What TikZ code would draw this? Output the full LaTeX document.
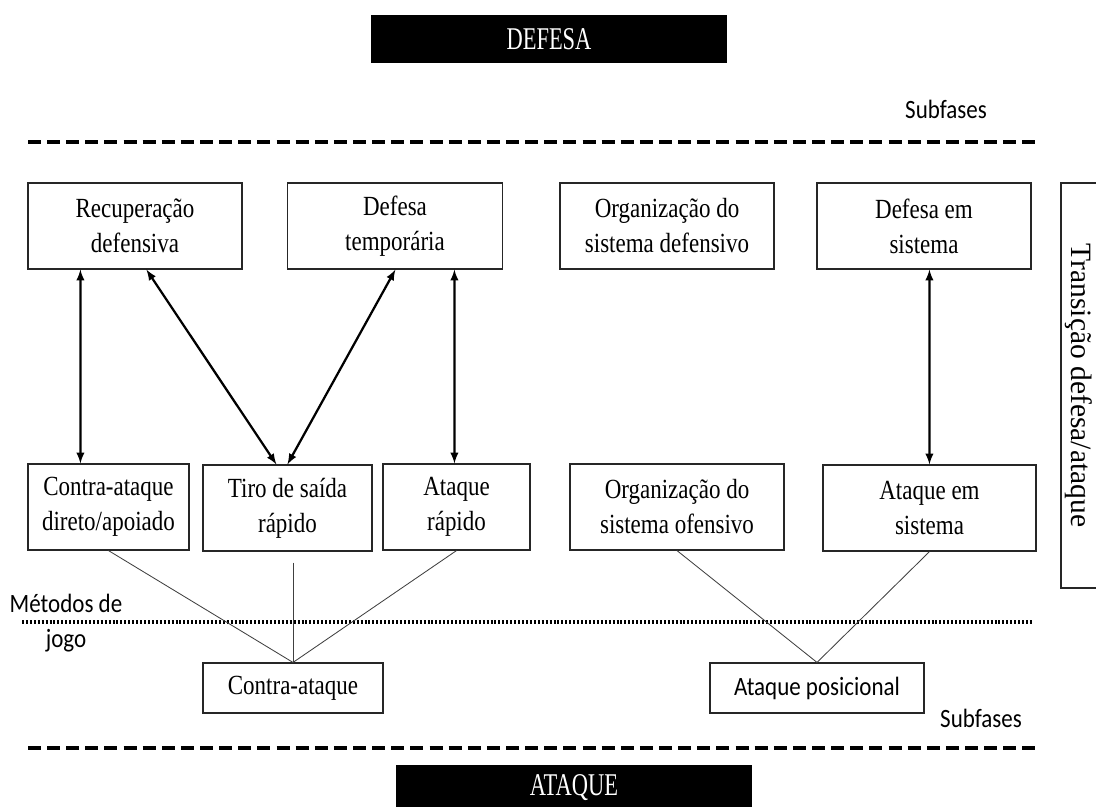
\documentclass[tikz,border=0pt]{standalone}
\usepackage{fontspec}
\setmainfont{Liberation Serif}
\newfontfamily\boxfont[FakeStretch=0.83]{Liberation Serif}
\newfontfamily\bandfont[FakeStretch=0.71]{Liberation Serif}
\newfontfamily\tagfont[FakeStretch=0.87]{Carlito}
\usetikzlibrary{arrows}
\tikzset{>=latex}
\tikzset{
  phaseNode/.style={shape=rectangle,fill=black,text=white,inner sep=0pt,minimum width=8.9cm,font=\bandfont\fontsize{22.5}{27}\selectfont},
  subNode/.style={shape=rectangle,draw=black!85,line width=0.8pt,fill=white,align=center,inner sep=0pt,minimum height=2.15cm,font=\boxfont\fontsize{19.7}{24.9}\selectfont},
  methodNode/.style={subNode,minimum height=1.25cm},
  sideNode/.style={shape=rectangle,draw=black!85,line width=0.8pt,rotate=-90,inner sep=0pt,minimum width=10.125cm,minimum height=0.9cm,font=\rmfamily\fontsize{21}{25}\selectfont},
  tagNode/.style={inner sep=0pt,align=center,font=\tagfont\fontsize{18.8}{24.9}\selectfont},
  duoLink/.style={draw=black,<->,line width=1.6pt},
  methodLink/.style={draw=black!75,line width=0.6pt},
  phaseSep/.style={line width=3pt,dash pattern=on 9.2pt off 4.4pt},
  methodSep/.style={line width=2.2pt,dash pattern=on 1.4pt off 1.4pt}
}

\begin{document}
\begin{tikzpicture}[x=0.025cm,y=-0.025cm]
        \useasboundingbox (0,0) rectangle (1096,807);

        % fases
        \node[minimum height=1.2cm] (defesa) [phaseNode] at (549,39) {DEFESA};
        \node[minimum height=1.15cm] (ataque) [phaseNode] at (574,788) {ATAQUE};
        \node (subA) [tagNode] at (946,109) {Subfases};
        \node (subB) [tagNode] at (981,718) {Subfases};
        \node (metodos) [tagNode] at (66,623) {Métodos de\\jogo};
        \node (trans) [sideNode] at (1079,385.5) {Transição defesa/ataque};

        \draw[phaseSep] (28,142) -- (1037,142);
        \draw[phaseSep] (28,748) -- (1038,748);
        \draw[methodSep] (22,622) -- (1032,622);

        % subfases defesa
        \node[minimum width=5.35cm] (recup) [subNode] at (135,226) {Recuperação\\defensiva};
        \node[minimum width=5.375cm] (deftemp) [subNode] at (395,226) {Defesa\\temporária};
        \node[minimum width=5.35cm] (orgdef) [subNode] at (667,226) {Organização do\\sistema defensivo};
        \node[minimum width=5.35cm] (defsist) [subNode] at (924,226) {Defesa em\\sistema};

        % subfases ataque
        \node[minimum width=4.025cm] (contradir) [subNode] at (108.5,507) {Contra-ataque\\direto/apoiado};
        \node[minimum width=4.225cm] (tiro) [subNode] at (287.5,508) {Tiro de saída\\rápido};
        \node[minimum width=3.675cm] (atqrap) [subNode] at (456.5,507) {Ataque\\rápido};
        \node[minimum width=5.35cm] (orgof) [subNode] at (677,507) {Organização do\\sistema ofensivo};
        \node[minimum width=5.325cm] (atqsist) [subNode] at (929.5,508) {Ataque em\\sistema};

        % metodos de jogo
        \node[minimum width=4.5cm] (contra) [methodNode] at (293,688) {Contra-ataque};
        \node[minimum width=5.35cm] (atqpos) [methodNode,font=\tagfont\fontsize{18.8}{24.9}\selectfont] at (817,688) {Ataque posicional};

        \path (contra.north |- tiro.south) ++(0,11) coordinate (tirope);

        \path
    ([shift={(53,0)}]recup.south west) edge [duoLink] ([shift={(53,0)}]contradir.north west)
    ([shift={(119,0)}]recup.south west) edge [duoLink] ([shift={(74,0)}]tiro.north west)
    ([shift={(108.5,0)}]deftemp.south west) edge [duoLink] ([shift={(85,0)}]tiro.north west)
    ([shift={(167.5,0)}]deftemp.south west) edge [duoLink] ([shift={(72,0)}]atqrap.north west)
    ([shift={(113,0)}]defsist.south west) edge [duoLink] ([shift={(107,0)}]atqsist.north west);

        \path
    (contradir.south) edge [methodLink] (contra.north)
    (tirope) edge [methodLink] (contra.north)
    (atqrap.south) edge [methodLink] (contra.north)
    (orgof.south) edge [methodLink] (atqpos.north)
    (atqsist.south) edge [methodLink] (atqpos.north);

\end{tikzpicture}
\end{document}
